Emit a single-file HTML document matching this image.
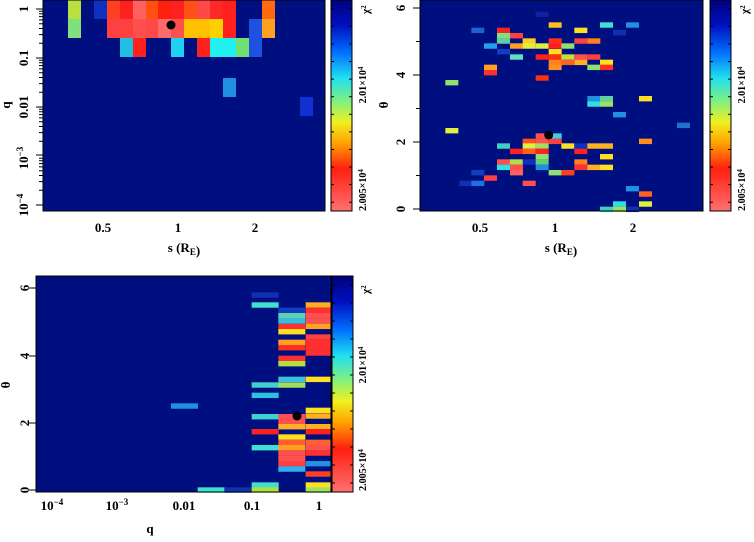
<!DOCTYPE html>
<html><head><meta charset="utf-8"><style>
body{margin:0;background:#fff;width:754px;height:537px;overflow:hidden}
svg text{font-family:"Liberation Serif",serif;font-weight:bold;fill:#000}
</style></head><body>
<svg id="s" width="754" height="537" xmlns="http://www.w3.org/2000/svg">
<defs>
<linearGradient id="cb" x1="0" y1="0" x2="0" y2="1">
<stop offset="0" stop-color="#00007f"/><stop offset="0.12" stop-color="#0010c0"/>
<stop offset="0.25" stop-color="#0070ff"/><stop offset="0.37" stop-color="#20e0f0"/>
<stop offset="0.48" stop-color="#80f080"/><stop offset="0.58" stop-color="#f0f020"/>
<stop offset="0.68" stop-color="#ffa000"/><stop offset="0.8" stop-color="#ff2010"/>
<stop offset="1" stop-color="#ff7070"/></linearGradient></defs>
<g id="g"></g>
<g font-size="13">
<text x="103" y="232" text-anchor="middle">0.5</text>
<text x="178" y="232" text-anchor="middle">1</text>
<text x="255" y="232" text-anchor="middle">2</text>
<text x="184" y="252" text-anchor="middle">s (R<tspan font-size="9" dy="3">E</tspan>)</text>
<g text-anchor="middle">
<text transform="translate(28,9) rotate(-90)">1</text>
<text transform="translate(28,58) rotate(-90)">0.1</text>
<text transform="translate(28,107) rotate(-90)">0.01</text>
<text transform="translate(28,158) rotate(-90)">10<tspan font-size="9" dy="-5">−3</tspan></text>
<text transform="translate(28,205) rotate(-90)">10<tspan font-size="9" dy="-5">−4</tspan></text>
<text transform="translate(10,105) rotate(-90)">q</text>
</g>
<text x="480" y="232" text-anchor="middle">0.5</text>
<text x="555" y="232" text-anchor="middle">1</text>
<text x="633" y="232" text-anchor="middle">2</text>
<text x="561" y="252" text-anchor="middle">s (R<tspan font-size="9" dy="3">E</tspan>)</text>
<g text-anchor="middle">
<text transform="translate(405,209) rotate(-90)">0</text>
<text transform="translate(405,142) rotate(-90)">2</text>
<text transform="translate(405,75) rotate(-90)">4</text>
<text transform="translate(405,8) rotate(-90)">6</text>
<text transform="translate(388,105) rotate(-90)">θ</text>
</g>
<g text-anchor="middle">
<text x="52" y="510">10<tspan font-size="9" dy="-5">−4</tspan></text>
<text x="117" y="510">10<tspan font-size="9" dy="-5">−3</tspan></text>
<text x="184" y="510">0.01</text>
<text x="252" y="510">0.1</text>
<text x="319" y="510">1</text>
<text x="150" y="533">q</text>
<text transform="translate(29,490) rotate(-90)">0</text>
<text transform="translate(29,423) rotate(-90)">2</text>
<text transform="translate(29,356) rotate(-90)">4</text>
<text transform="translate(29,288) rotate(-90)">6</text>
<text transform="translate(10,385) rotate(-90)">θ</text>
</g>
</g>
</svg>
<script>
var g=document.getElementById('g'),NS='http://www.w3.org/2000/svg';
function R(x,y,w,h,c,st){var r=document.createElementNS(NS,'rect');r.setAttribute('x',x);r.setAttribute('y',y);r.setAttribute('width',w);r.setAttribute('height',h);r.setAttribute('fill',c);if(st){r.setAttribute('stroke',st);}g.appendChild(r);}
function L(x1,y1,x2,y2){var l=document.createElementNS(NS,'line');l.setAttribute('x1',x1);l.setAttribute('y1',y1);l.setAttribute('x2',x2);l.setAttribute('y2',y2);l.setAttribute('stroke','#000');g.appendChild(l);}
function C(x,y){var c=document.createElementNS(NS,'circle');c.setAttribute('cx',x);c.setAttribute('cy',y);c.setAttribute('r',4.5);c.setAttribute('fill','#000');g.appendChild(c);}
function T(x,y,t){var e=document.createElementNS(NS,'text');e.setAttribute('font-size','10');e.setAttribute('text-anchor','middle');e.setAttribute('transform','translate('+x+','+y+') rotate(-90)');e.innerHTML=t;g.appendChild(e);}
var NAV='#000f80';
function panel(px,py,pw,ph,cx){R(px,py,pw,ph,NAV);R(cx,py,21,ph,'url(#cb)','#000');
for(var i=0;i<12;i++){var y=py+ph*(i+0.5)/12;L(cx,y,cx+3,y);L(cx+18,y,cx+21,y);}}
panel(43,0,282,211,331);panel(420,0,283,211,710);panel(36,276,295,216,332);
[9,58,107,155,205].forEach(function(y){L(36,y,43,y);});
for(var k=0;k<5;k++){for(var m=2;m<10;m++){var y=9+k*49-49*Math.log10(m);if(y>0&&y<211)L(39,y,43,y);}}
[209,142,75,8].forEach(function(y){L(413,y,420,y);});
[175.5,108.5,41.5].forEach(function(y){L(416,y,420,y);});
[490,423,356,288].forEach(function(y){L(29,y,36,y);});
var c1=[[68,0,'#b8e040'],[94,0,'#1030c0'],[107,0,'#ff4020'],[120,0,'#ff2020'],[133,0,'#ff6060'],[146,0,'#ff5010'],[158,0,'#ff2010'],[171,0,'#ff2020'],[184,0,'#ff5018'],[197,0,'#ff4848'],[210,0,'#ff2828'],[223,0,'#ff2020'],[262,0,'#ff6a10'],
[68,19,'#80e080'],[107,19,'#ff4040'],[120,19,'#ff4040'],[133,19,'#ff5050'],[146,19,'#ff4848'],[158,19,'#ff6a6a'],[171,19,'#ff5050'],[184,19,'#ffc000'],[197,19,'#ffc000'],[210,19,'#ffd000'],[223,19,'#ff2020'],[249,19,'#2050e0'],[262,19,'#ffa020'],
[120,38,'#20c0e0'],[133,38,'#ff2020'],[171,38,'#20d0f0'],[197,38,'#ff2020'],[210,38,'#20f0f0'],[223,38,'#20f0f0'],[236,38,'#70e070'],[249,38,'#2050e0'],
[223,78,'#2090e0'],[300,97,'#1030d0']];
c1.forEach(function(a){R(a[0],a[1],13,19,a[2]);});C(171,25);
var c2=[[476,35,'#1020a0'],[515,67,'#ffc020'],[669,67,'#40e0d0'],[747,67,'#2090e0'],[283,83,'#2060d0'],[360,83,'#ff2020'],[592,83,'#ffe020'],[708,90,'#1030b0'],[360,99,'#80e080'],[399,99,'#ff4040'],[360,115,'#60d0a0'],
[321,130,'#20a0f0'],[399,130,'#ffa020'],[437,115,'#ffd020'],[437,130,'#e0f040'],[476,130,'#e0f040'],[515,115,'#ff3020'],[515,130,'#ff2020'],[553,130,'#90e070'],[592,115,'#ff4040'],[631,115,'#ff8020'],
[360,147,'#1040c0'],[515,147,'#ffe020'],[399,163,'#60e0c0'],[476,163,'#ff2020'],[515,163,'#ff3010'],[553,163,'#c0e040'],[592,163,'#ff5050'],[631,163,'#ff4040'],
[515,179,'#ff8020'],[553,179,'#ff6020'],[592,179,'#ffb020'],[669,179,'#ffe020'],[321,194,'#ffa020'],[515,194,'#ff9020'],[631,194,'#90e070'],[669,194,'#ff3020'],
[321,210,'#ff3030'],[476,226,'#ff3010'],[205,240,'#90e070'],[631,288,'#2090e0'],[669,288,'#60d0a0'],[631,304,'#30e0e0'],[669,304,'#a0e060'],[786,288,'#ffe020'],
[708,336,'#2090e0'],[900,368,'#2070d0'],[205,384,'#e0f040'],[476,400,'#ff5050'],[515,400,'#40d0e0'],[437,416,'#ff5020'],[476,416,'#ff5050'],[515,416,'#ff4040'],[786,416,'#ff9020'],
[360,430,'#40d0c0'],[437,430,'#e0f040'],[476,430,'#a0e060'],[553,430,'#ffe020'],[592,430,'#1030c0'],[631,430,'#ffb020'],[669,430,'#ffb020'],
[399,446,'#ff2020'],[437,446,'#ff6020'],[476,446,'#ff2020'],[592,446,'#ff2020'],[476,462,'#90e070'],[669,462,'#ffe020'],
[360,478,'#ff5050'],[399,478,'#b0e050'],[437,478,'#1030c0'],[476,478,'#60d070'],[592,478,'#ff8020'],
[360,494,'#30e0e0'],[399,494,'#ff5050'],[476,494,'#2090e0'],[592,494,'#ff3030'],[631,494,'#ffb020'],[669,494,'#ffe020'],
[283,510,'#1040c0'],[399,510,'#ff6060'],[515,510,'#90e070'],[553,510,'#ff4020'],[321,526,'#ff4040'],[247,542,'#1030b0'],[283,542,'#2070e0'],[437,542,'#ff5050'],
[747,558,'#2090e0'],[786,574,'#ff6020'],[708,604,'#30e0e0'],[786,604,'#e0f040'],[669,620,'#40d0c0'],[708,620,'#a0e060'],[747,620,'#1030b0']];
c2.forEach(function(a){R(a[0]/3+377,a[1]/3,13,5.4,a[2]);});C(548.7,135);
function P3(zx,zy,w,c){R(zx/3,zy/3+270,w,5.4,c);}
[[67,'#1030b0'],[97,'#40e0d0'],[337,'#40d0d0'],[368,'#30c0e0'],[432,'#40d0d0'],[477,'#ff2020'],[525,'#40e0d0'],[637,'#40e0d0'],[652,'#b0e040']].forEach(function(a){P3(755,a[0],27,a[1]);});
[[113,'#1040c0'],[129,'#60d0b0'],[145,'#30c0e0'],[161,'#ff3030'],[177,'#ffe020'],[209,'#ffa020'],[225,'#ff3020'],[257,'#ff3030'],[273,'#b0e040'],[320,'#40c0e0'],[337,'#a0e060'],[432,'#ff5050'],[448,'#ff5050'],[462,'#ffb020'],[493,'#ffe020'],[509,'#ff6030'],[525,'#ffa020'],[541,'#ff5050'],[557,'#ff5050'],[573,'#ff4040'],[589,'#30b0f0']].forEach(function(a){P3(835,a[0],27,a[1]);});
[[97,'#ffb020'],[113,'#ff3030'],[129,'#ff5050'],[145,'#ff5050'],[161,'#ffa020'],[193,'#ff4040'],[209,'#ff3030'],[225,'#ff3030'],[241,'#ff3030'],[320,'#ffe020'],[413,'#ffe020'],[430,'#ffb020'],[462,'#ffb020'],[477,'#ff2020'],[509,'#ff6030'],[525,'#ff5050'],[541,'#ff3030'],[573,'#2090e0'],[604,'#ff4020'],[637,'#ffe020'],[652,'#a0e060']].forEach(function(a){P3(917,a[0],25,a[1]);});
P3(513,400,27,'#2090e0');P3(593,652,27,'#40e0d0');P3(673,652,27,'#1030b0');
C(297,416);
[[366,0],[745,0],[366,280]].forEach(function(p){var x=p[0],y=p[1];
T(x,y+190,'2.005×10<tspan font-size="7" dy="-3">4</tspan>');T(x,y+85,'2.01×10<tspan font-size="7" dy="-3">4</tspan>');
var e=document.createElementNS(NS,'text');e.setAttribute('font-size','11');e.setAttribute('transform','translate('+(x+3)+','+(y+14)+') rotate(-90)');e.innerHTML='χ<tspan font-size="7" dy="-3">2</tspan>';g.appendChild(e);});
[[43,0,282,211],[420,0,283,211],[36,276,295,216]].forEach(function(b){var r=document.createElementNS(NS,'rect');r.setAttribute('x',b[0]);r.setAttribute('y',b[1]);r.setAttribute('width',b[2]);r.setAttribute('height',b[3]);r.setAttribute('fill','none');r.setAttribute('stroke','#000');g.appendChild(r);});
</script>
</body></html>
